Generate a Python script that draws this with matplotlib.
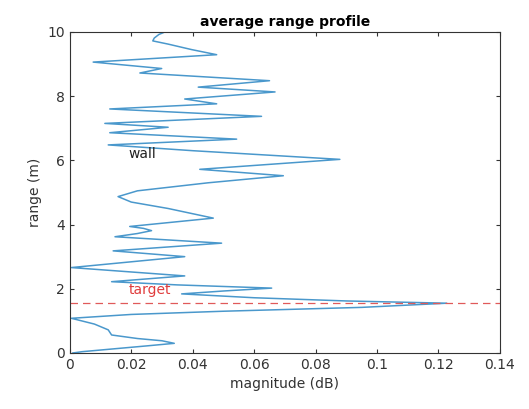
import matplotlib
matplotlib.use('Agg')
import matplotlib.pyplot as plt
import numpy as np

# averaged range profile, read as (range, magnitude) pairs from bottom to top
rng = [0.00, 0.04, 0.22, 0.30, 0.38, 0.45, 0.56, 0.72, 0.90, 1.08, 1.20, 1.30, 1.42, 1.55, 1.62, 1.72, 1.84, 1.93, 2.02, 2.12, 2.22,
       2.40, 2.66, 3.00, 3.18, 3.42, 3.62, 3.72, 3.81, 3.88, 3.94, 4.20, 4.50, 4.70, 4.87, 5.05, 5.30, 5.52,
       5.72, 6.03, 6.30, 6.48, 6.66, 6.86, 7.03, 7.15, 7.37, 7.60, 7.76, 7.91, 8.13, 8.28,
       8.48, 8.72, 8.86, 9.06, 9.29, 9.45, 9.62, 9.72, 9.81, 9.92, 10.00]
mag = [0.001, 0.004, 0.025, 0.034, 0.030, 0.022, 0.0136, 0.0125, 0.008, 0.0005, 0.020, 0.050, 0.095, 0.1227, 0.090, 0.060, 0.0364, 0.050, 0.0657, 0.035, 0.0136,
       0.0374, 0.0005, 0.0374, 0.0141, 0.0494, 0.0147, 0.022, 0.0266, 0.024, 0.0195, 0.0467, 0.032, 0.020, 0.0157, 0.022, 0.045, 0.0695,
       0.0423, 0.0879, 0.040, 0.0125, 0.0543, 0.013, 0.032, 0.0114, 0.0624, 0.013, 0.0478, 0.0374, 0.0668, 0.0418,
       0.065, 0.0228, 0.0299, 0.0076, 0.0478, 0.0396, 0.032, 0.027, 0.0275, 0.029, 0.031]

target_range = 1.55
xticks = [0, 0.02, 0.04, 0.06, 0.08, 0.1, 0.12, 0.14]
xlabels = ['0', '0.02', '0.04', '0.06', '0.08', '0.1', '0.12', '0.14']
yticks = [0, 2, 4, 6, 8, 10]

fig = plt.figure(figsize=(5.29, 4.09), dpi=100)
ax = fig.add_axes([0.132, 0.137, 0.813, 0.785])

ax.plot(mag, rng, color='#4a98cc', lw=1.1)
ax.axhline(target_range, color='#e05a5a', ls='--', lw=0.9, dashes=(6, 4))

ax.text(0.019, 6.2, 'wall', fontsize=10, color='#222222', va='center')
ax.text(0.019, 1.95, 'target', fontsize=10, color='#e03c3c', va='center')

ax.set_xlim(0, 0.14)
ax.set_ylim(0, 10)
ax.set_xticks(xticks)
ax.set_xticklabels(xlabels)
ax.set_yticks(yticks)
ax.tick_params(direction='in', top=True, right=True, labelsize=10, colors='#333333', length=3)
for s in ax.spines.values():
    s.set_color('#333333')
    s.set_linewidth(0.8)

ax.set_xlabel('magnitude (dB)', fontsize=10, color='#333333')
ax.set_ylabel('range (m)', fontsize=10, color='#333333')
ax.set_title('average range profile', fontsize=10, fontweight='bold', pad=4)

fig.savefig('out.png', dpi=100)
